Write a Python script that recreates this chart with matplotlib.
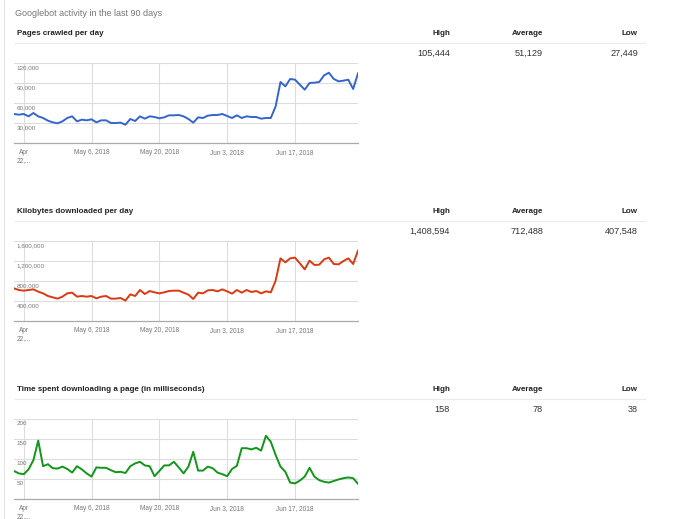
import matplotlib
matplotlib.use('Agg')
import matplotlib.pyplot as plt
import pandas as pd

# one point per day
days = pd.date_range('2018-04-20', periods=72)

pages = [43500, 42500, 43500, 40000, 45000, 40000, 37500, 33500, 31000, 29500,
         32500, 37500, 40000, 32500, 35000, 34000, 35500, 31000, 34000, 34000,
         30000, 30000, 30500, 27449, 36000, 33000, 40000, 36500, 40000, 39000,
         37000, 38500, 41500, 41500, 42000, 40000, 36000, 30500, 38500, 37500,
         41000, 42000, 42000, 43500, 40500, 37500, 41500, 37500, 40000, 39000,
         39000, 36500, 37500, 37500, 55000, 91500, 85000, 96000, 95000, 87500,
         80000, 90000, 90500, 91500, 101500, 105444, 96000, 92500, 93500, 95000,
         81000, 104500]

kilobytes = [653000, 620000, 607000, 620000, 633000, 587000, 553000, 500000, 473000, 447000,
             487000, 553000, 567000, 487000, 500000, 487000, 500000, 453000, 487000, 500000,
             447000, 447000, 460000, 407548, 533000, 500000, 620000, 540000, 600000, 573000,
             553000, 573000, 600000, 607000, 607000, 567000, 527000, 440000, 567000, 553000,
             613000, 620000, 593000, 633000, 593000, 547000, 620000, 567000, 620000, 580000,
             600000, 553000, 593000, 573000, 807000, 1253000, 1173000, 1253000, 1267000, 1153000,
             1033000, 1207000, 1120000, 1127000, 1233000, 1267000, 1140000, 1133000, 1200000, 1253000,
             1140000, 1408594]

millis = [70, 64, 62, 74, 97, 146, 82, 87, 77, 76,
          81, 75, 66, 82, 74, 64, 56, 79, 78, 78,
          72, 67, 68, 65, 82, 89, 93, 84, 82, 57,
          70, 84, 84, 93, 79, 64, 81, 118, 71, 71,
          81, 77, 66, 62, 57, 75, 83, 127, 127, 124,
          128, 121, 158, 143, 110, 81, 68, 41, 39, 46,
          56, 78, 56, 47, 43, 41, 45, 49, 52, 54,
          52, 38]

titles = ['Pages crawled per day', 'Kilobytes downloaded per day',
          'Time spent downloading a page (in milliseconds)']
highs = ['105,444', '1,408,594', '158']
averages = ['51,129', '712,488', '78']
lows = ['27,449', '407,548', '38']

ytick_vals = [[30000, 60000, 90000, 120000],
              [400000, 800000, 1200000, 1600000],
              [50, 100, 150, 200]]
ytick_labels = [['30,000', '60,000', '90,000', '120,000'],
                ['400,000', '800,000', '1,200,000', '1,600,000'],
                ['50', '100', '150', '200']]
xtick_dates = pd.to_datetime(['2018-04-22', '2018-05-06', '2018-05-20', '2018-06-03', '2018-06-17'])
xtick_labels = ['Apr\n22,...', 'May 6, 2018', 'May 20, 2018', 'Jun 3, 2018', 'Jun 17, 2018']

series = [pages, kilobytes, millis]
colors = ['#3366cc', '#dc3912', '#109618']

sans = ['Liberation Sans', 'DejaVu Sans']

W, H = 680, 519
fig = plt.figure(figsize=(W / 100, H / 100), dpi=100)


def fx(x):
    return x / W


def fy(y):
    return 1 - y / H


# faint page border on the left
fig.add_artist(plt.Line2D([fx(4), fx(4)], [0, 1], color='#e4e4e4', lw=0.8))

fig.text(fx(15), fy(13), 'Googlebot activity in the last 90 days', family=sans,
         fontsize=6.5, color='#777777', va='center', ha='left')

offsets = [0, 178, 356]
for k in range(3):
    off = offsets[k]
    fig.text(fx(17), fy(33.5 + off), titles[k], family=sans, fontsize=5.8,
             weight='bold', color='#222222', va='center')
    for lab, xr in zip(['High', 'Average', 'Low'], [450, 543, 638]):
        fig.text(fx(xr), fy(33.5 + off), lab, family=sans, fontsize=5.8,
                 weight='bold', color='#222222', va='center', ha='right')
    fig.add_artist(plt.Line2D([fx(15), fx(645)], [fy(42.5 + off)] * 2, color='#ebebeb', lw=0.8))
    for val, xr in zip([highs[k], averages[k], lows[k]], [450, 543, 638]):
        fig.text(fx(xr), fy(53.5 + off), val, family=sans, fontsize=6.6,
                 color='#333333', va='center', ha='right')

    top, bottom = 63 + off, 143 + off
    ax = fig.add_axes([fx(14), fy(bottom), fx(358) - fx(14), (bottom - top) / H])
    ax.plot(days, series[k], color=colors[k], lw=1.4, solid_joinstyle='round')
    ax.set_xlim(days[0], days[-1])
    ax.set_ylim(0, ytick_vals[k][-1])
    ax.set_yticks(ytick_vals[k])
    ax.set_yticklabels([])
    ax.set_xticks(xtick_dates)
    ax.set_xticklabels(xtick_labels, family=sans, fontsize=4.7, color='#777777')
    ax.tick_params(length=0, pad=4.5)
    ax.grid(True, color='#dddddd', lw=0.8)
    ax.set_axisbelow(True)
    for s in ['top', 'left', 'right']:
        ax.spines[s].set_visible(False)
    ax.spines['bottom'].set_color('#aaaaaa')
    ax.spines['bottom'].set_linewidth(0.9)
    for v, lab in zip(ytick_vals[k], ytick_labels[k]):
        ax.annotate(lab, xy=(0, v), xycoords=('axes fraction', 'data'),
                    xytext=(1.8, -1.5), textcoords='offset points',
                    family=sans, fontsize=4.5, color='#777777', va='top', ha='left')

fig.savefig('out.png', dpi=100)
